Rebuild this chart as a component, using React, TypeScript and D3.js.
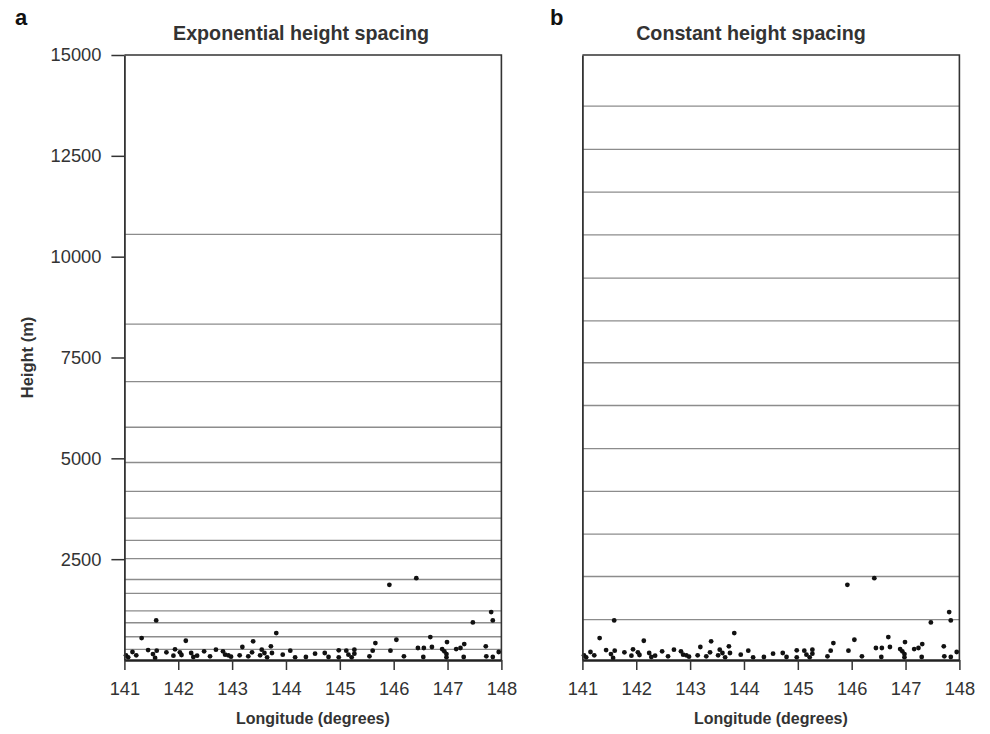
import { useEffect, useRef } from "react";
import * as d3 from "d3";

// station locations (degrees east) and their heights (m)
const stationLon = [
  141.03, 141.07, 141.15, 141.22, 141.32, 141.44, 141.53, 141.57, 141.59, 141.6,
  141.78, 141.91, 141.94, 142.03, 142.06, 142.14, 142.24, 142.28, 142.35, 142.48,
  142.59, 142.7, 142.83, 142.87, 142.93, 142.98, 143.14, 143.19, 143.3, 143.37,
  143.39, 143.52, 143.55, 143.6, 143.65, 143.72, 143.74, 143.82, 143.94, 144.08,
  144.17, 144.37, 144.54, 144.72, 144.79, 144.98, 144.98, 145.12, 145.16, 145.22,
  145.27, 145.27, 145.55, 145.61, 145.66, 145.92, 145.94, 146.05, 146.19, 146.42,
  146.45, 146.55, 146.56, 146.68, 146.71, 146.9, 146.94, 146.98, 146.98, 146.99,
  147.16, 147.24, 147.3, 147.31, 147.47, 147.71, 147.72, 147.81, 147.84, 147.84,
  147.95,
];
const stationHeight = [
  116, 67, 198, 116, 544, 247, 148, 50, 982, 230,
  190, 106, 265, 190, 124, 477, 173, 74, 106, 215,
  92, 255, 215, 131, 116, 82, 116, 322, 92, 190,
  462, 116, 255, 173, 67, 339, 173, 668, 131, 230,
  67, 74, 156, 173, 74, 240, 67, 230, 131, 67,
  255, 156, 92, 230, 420, 1863, 230, 502, 92, 2028,
  297, 74, 297, 569, 322, 272, 215, 148, 67, 445,
  272, 297, 74, 396, 932, 339, 92, 1187, 982, 74,
  198,
];

// model level heights (m)
const expLevels = [265, 576, 923, 1219, 1650, 1996, 2515, 2968, 3520, 4180, 4897, 5771, 6901, 8328, 10554];
const constLevels = [1000, 2070, 3120, 4180, 5240, 6310, 7370, 8410, 9470, 10540, 11600, 12660, 13730];

const xTicks = [141, 142, 143, 144, 145, 146, 147, 148];
const yTicks = [2500, 5000, 7500, 10000, 12500, 15000];

const panels = [
  { letter: "a", title: "Exponential height spacing", levels: expLevels, left: 124.4, letterX: 15, titleX: 301, yAxis: true },
  { letter: "b", title: "Constant height spacing", levels: constLevels, left: 582.4, letterX: 550, titleX: 751, yAxis: false },
];

const W = 990, H = 734;
const plotW = 377, top = 55, bottom = 660;
const font = "'Liberation Sans', Arial, Helvetica, sans-serif";

export default function App() {
  const svgRef = useRef<SVGSVGElement>(null);

  useEffect(() => {
    const svg = d3.select(svgRef.current);
    svg.selectAll("*").remove();

    const x = d3.scaleLinear().domain([141, 148]).range([0, plotW]);
    const y = d3.scaleLinear().domain([0, 15000]).range([bottom, top]);
    const stations = stationLon.map((lon, i) => ({ lon, h: stationHeight[i] }));

    panels.forEach((p) => {
      const g = svg.append("g").attr("transform", `translate(${p.left},0)`);

      g.selectAll("line.level")
        .data(p.levels)
        .join("line")
        .attr("class", "level")
        .attr("x1", 0)
        .attr("x2", plotW)
        .attr("y1", (d) => y(d))
        .attr("y2", (d) => y(d))
        .attr("stroke", "#8c8c8c")
        .attr("stroke-width", 1.3);

      // top + right border
      g.append("path")
        .attr("d", `M0,${y(15000)}H${plotW}V${bottom}`)
        .attr("fill", "none")
        .attr("stroke", "#333")
        .attr("stroke-width", 1.6);

      g.selectAll("circle")
        .data(stations)
        .join("circle")
        .attr("cx", (d) => x(d.lon))
        .attr("cy", (d) => y(d.h))
        .attr("r", 2.4)
        .attr("fill", "#111");

      const yAx = g.append("g").call(
        p.yAxis
          ? d3.axisLeft(y).tickValues(yTicks).tickFormat(d3.format("d")).tickSize(13).tickPadding(10).tickSizeOuter(0)
          : d3.axisLeft(y).tickValues([]).tickSizeOuter(0)
      );
      yAx.select(".domain").attr("stroke", "#333").attr("stroke-width", 1.8);
      yAx.selectAll(".tick line").attr("stroke", "#333").attr("stroke-width", 1.5);
      yAx.selectAll(".tick text")
        .attr("font-family", font)
        .attr("font-size", 18.3)
        .attr("fill", "#333");

      const xAx = g.append("g")
        .attr("transform", `translate(0,${bottom})`)
        .call(d3.axisBottom(x).tickValues(xTicks).tickFormat(d3.format("d")).tickSize(10).tickPadding(12).tickSizeOuter(0));
      xAx.select(".domain").attr("stroke", "#222").attr("stroke-width", 2.6);
      xAx.selectAll(".tick line").attr("stroke", "#333").attr("stroke-width", 1.5);
      xAx.selectAll(".tick text")
        .attr("font-family", font)
        .attr("font-size", 18.3)
        .attr("fill", "#333");

      svg.append("text")
        .attr("x", p.titleX)
        .attr("y", 40)
        .attr("text-anchor", "middle")
        .attr("font-family", font)
        .attr("font-weight", "bold")
        .attr("font-size", 19.7)
        .attr("fill", "#333")
        .text(p.title);

      g.append("text")
        .attr("x", plotW / 2)
        .attr("y", 724)
        .attr("text-anchor", "middle")
        .attr("font-family", font)
        .attr("font-weight", "bold")
        .attr("font-size", 16)
        .attr("fill", "#333")
        .text("Longitude (degrees)");

      svg.append("text")
        .attr("x", p.letterX)
        .attr("y", 25)
        .attr("font-family", font)
        .attr("font-weight", "bold")
        .attr("font-size", 22)
        .attr("fill", "#111")
        .text(p.letter);
    });

    svg.append("text")
      .attr("transform", `translate(33,${(top + bottom) / 2}) rotate(-90)`)
      .attr("text-anchor", "middle")
      .attr("font-family", font)
      .attr("font-weight", "bold")
      .attr("font-size", 16.5)
      .attr("fill", "#333")
      .text("Height (m)");
  }, []);

  return (
    <svg
      ref={svgRef}
      width={W}
      height={H}
      style={{ position: "absolute", left: 0, top: 0, background: "#fff" }}
    />
  );
}
